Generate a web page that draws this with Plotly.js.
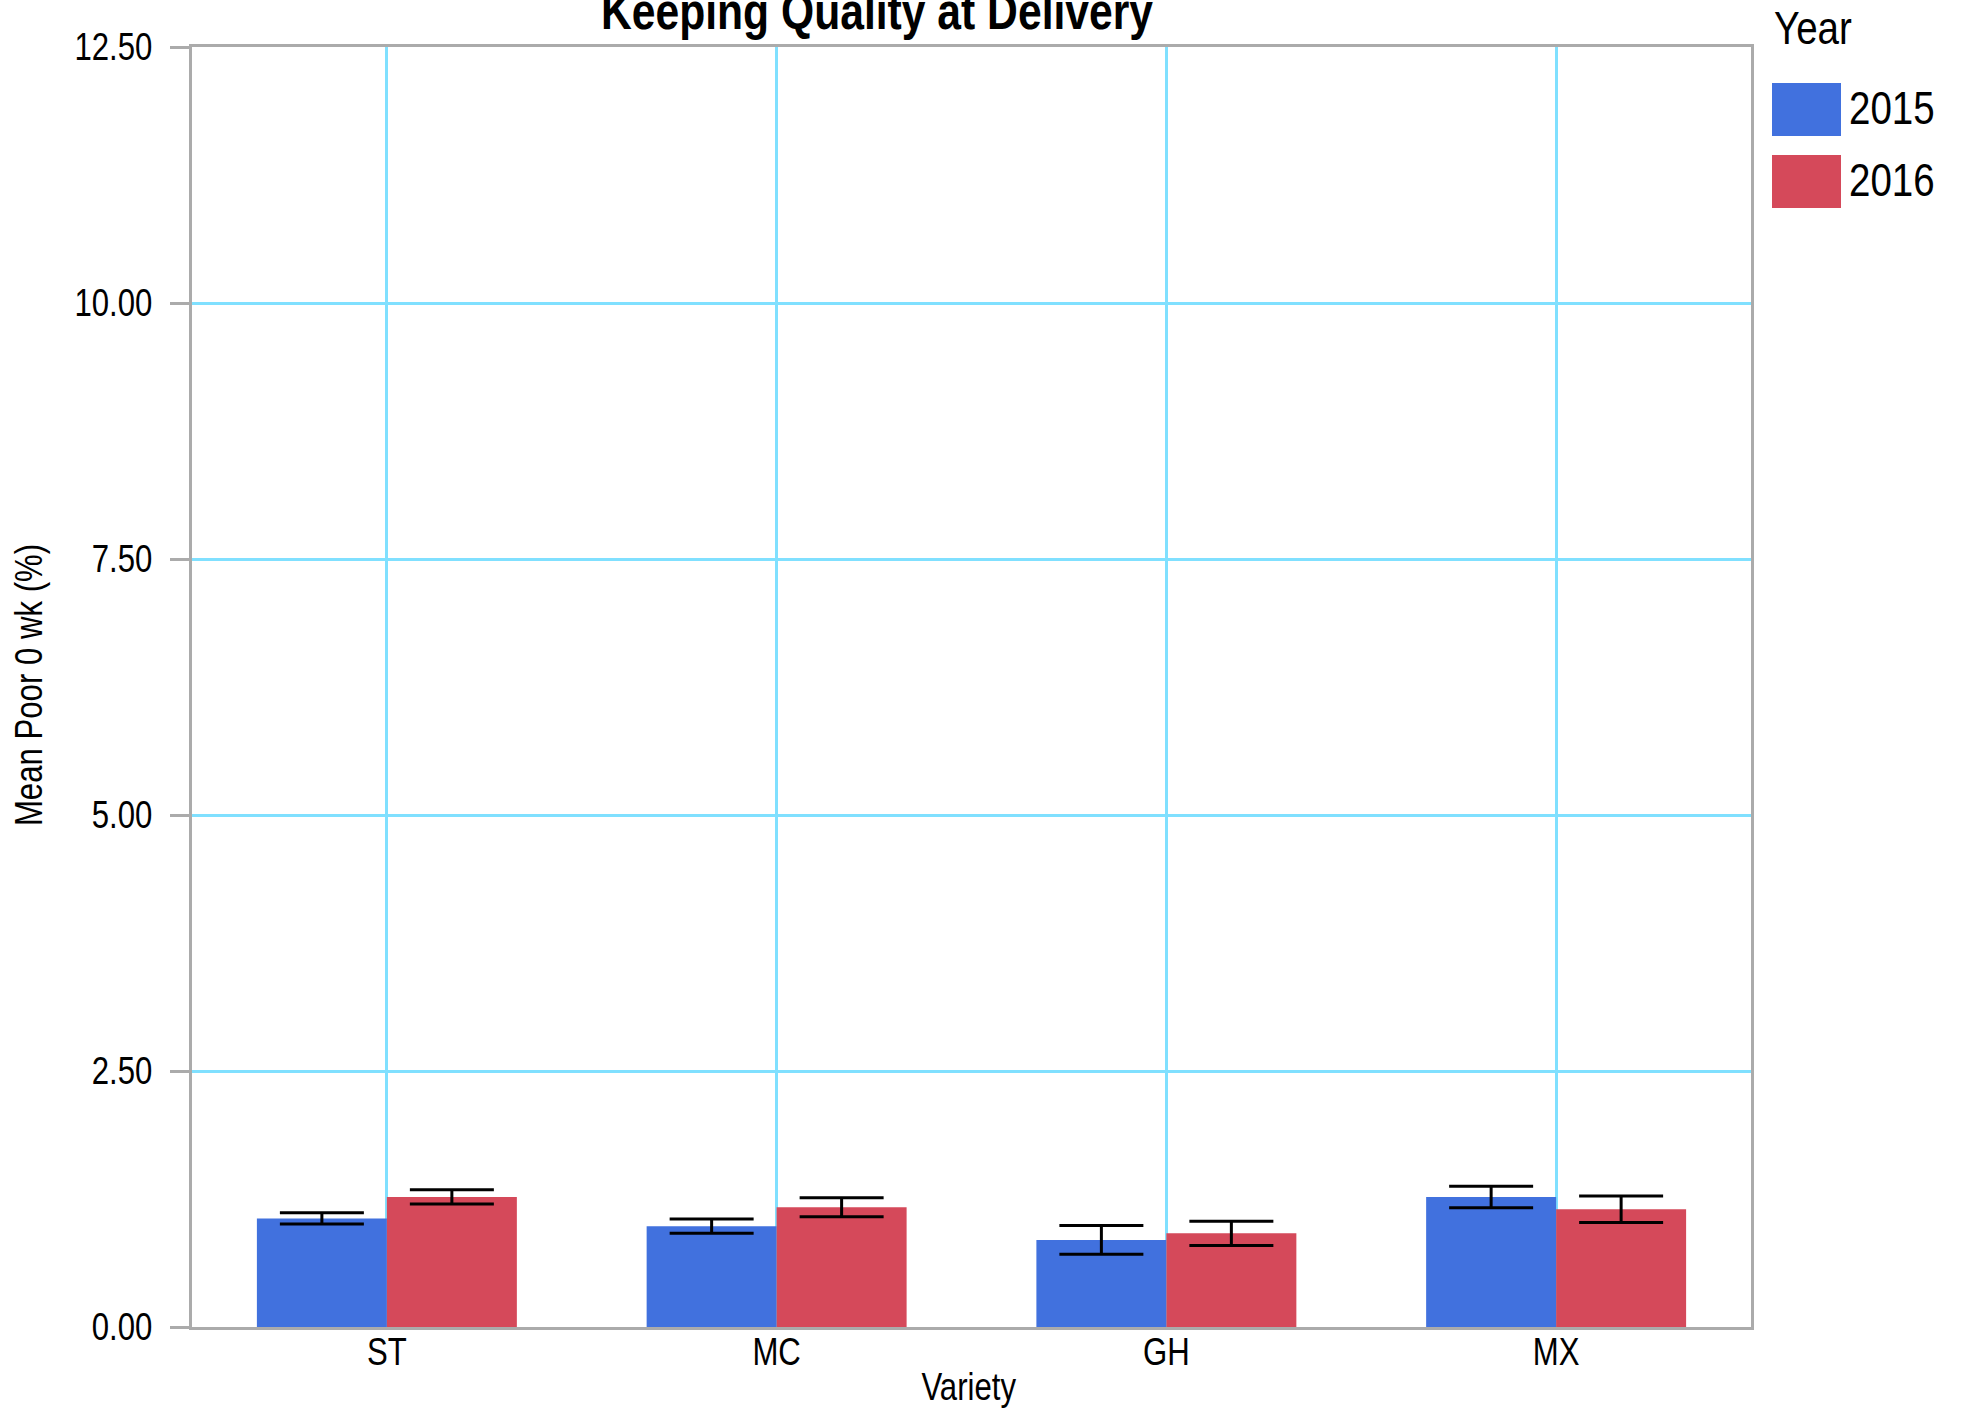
<!DOCTYPE html>
<html>
<head>
<meta charset="utf-8">
<script src="https://cdn.plot.ly/plotly-3.0.1.min.js"></script>
<style>html,body{margin:0;padding:0;background:#fff;}#chart{width:1961px;height:1410px;}</style>
</head>
<body>
<div id="chart"></div>
<script>
const varieties = ["ST", "MC", "GH", "MX"];
const years = ["2015", "2016"];
const mean2015 = [1.06, 0.985, 0.85, 1.27];
const err2015 = [0.055, 0.07, 0.14, 0.105];
const mean2016 = [1.27, 1.17, 0.915, 1.15];
const err2016 = [0.07, 0.093, 0.118, 0.13];
const yTicks = [0, 2.5, 5, 7.5, 10, 12.5];
const colors = ["#4171DE", "#D5495A"];

const FONT = "'Liberation Sans Narrow', 'Arial Narrow', 'Liberation Sans', Arial, sans-serif";
const NARROW = 0.82;

// plot area in pixels
const PL = 192, PR = 1751, PT = 47, PB = 1327;
const PW = PR - PL, PH = PB - PT;
const px = x => (x - PL) / PW;
const py = y => (PB - y) / PH;

function barTrace(name, y, e, color) {
  return {
    type: "bar", name: name, x: varieties, y: y,
    marker: {color: color, line: {width: 0}},
    error_y: {type: "data", array: e, visible: true, color: "#000", thickness: 3, width: 42},
    showlegend: false, hoverinfo: "none"
  };
}

const data = [
  barTrace(years[0], mean2015, err2015, colors[0]),
  barTrace(years[1], mean2016, err2016, colors[1])
];

// legend key: swatches + labels
const legendShapes = years.map((yr, i) => ({
  type: "rect", xref: "paper", yref: "paper",
  x0: px(1772), x1: px(1841),
  y0: py(136 + 72 * i), y1: py(83 + 72 * i),
  fillcolor: colors[i], line: {width: 0}
}));
const legendText = years.map((yr, i) => ({
  xref: "paper", yref: "paper",
  x: px(1847), xanchor: "left",
  y: py(107 + 72 * i), yanchor: "middle",
  text: yr, showarrow: false,
  font: {family: FONT, size: 47, color: "#000"}
}));
legendText.push({
  xref: "paper", yref: "paper",
  x: px(1772), xanchor: "left",
  y: py(27), yanchor: "middle",
  text: "Year", showarrow: false,
  font: {family: FONT, size: 47, color: "#000"}
});

const layout = {
  width: 1961, height: 1410,
  paper_bgcolor: "#fff", plot_bgcolor: "#fff",
  margin: {l: PL, r: 1961 - PR, t: PT, b: 1410 - PB, pad: 0},
  font: {family: FONT, size: 38, color: "#000"},
  title: {
    text: "<b>Keeping Quality at Delivery</b>",
    font: {family: FONT, size: 52, color: "#000"},
    xref: "container", x: 877 / 1961, xanchor: "center",
    yref: "container", y: 1 - 11 / 1410, yanchor: "middle"
  },
  barmode: "group", bargap: 0.333, bargroupgap: 0,
  showlegend: false,
  xaxis: {
    type: "category",
    showgrid: true, gridcolor: "#80E0FF", gridwidth: 3,
    showline: true, linecolor: "#ABABAB", linewidth: 3, mirror: true,
    ticks: "", tickfont: {family: FONT, size: 38, color: "#000"},
    title: {text: "Variety", font: {family: FONT, size: 38, color: "#000"}},
    zeroline: false
  },
  yaxis: {
    range: [0, 12.5], tickvals: yTicks, tickformat: ".2f",
    showgrid: true, gridcolor: "#80E0FF", gridwidth: 3,
    showline: true, linecolor: "#ABABAB", linewidth: 3, mirror: true,
    ticks: "outside", ticklen: 19, tickwidth: 3, tickcolor: "#ABABAB",
    tickfont: {family: FONT, size: 38, color: "#000"},
    ticklabelstandoff: 10,
    title: {text: "Mean Poor 0 wk (%)", font: {family: FONT, size: 38, color: "#000"}},
    zeroline: false
  },
  shapes: legendShapes,
  annotations: legendText
};

// Emulate a narrow (condensed) sans face: squeeze text horizontally about its anchor,
// and place titles / category labels where the reference has them.
function finish(gd) {
  const svgRect = gd.querySelector('svg.main-svg').getBoundingClientRect();
  gd.querySelectorAll('svg text').forEach(t => {
    if (!t.textContent) return;
    const b = t.getBBox();
    let anchor = t.getAttribute('text-anchor') || 'start';
    if (t.classList.contains('annotation-text')) anchor = 'start';
    const cx = anchor === 'end' ? b.x + b.width : anchor === 'middle' ? b.x + b.width / 2 : b.x;
    const tr = t.getAttribute('transform') || '';
    t.setAttribute('transform', tr + ' translate(' + cx + ',0) scale(' + NARROW + ',1) translate(' + (-cx) + ',0)');
  });
  function moveTo(el, tx, ty) {
    if (!el) return;
    const r = el.getBoundingClientRect();
    const cx = r.left + r.width / 2 - svgRect.left, cy = r.top + r.height / 2 - svgRect.top;
    const dx = tx == null ? 0 : tx - cx, dy = ty == null ? 0 : ty - cy;
    el.setAttribute('transform', 'translate(' + dx + ',' + dy + ') ' + (el.getAttribute('transform') || ''));
  }
  moveTo(gd.querySelector('.xtitle'), 969, 1387);
  moveTo(gd.querySelector('.ytitle'), 29, 685);
  gd.querySelectorAll('.xtick text').forEach(t => moveTo(t, null, 1352));
}

Plotly.newPlot("chart", data, layout, {displayModeBar: false, staticPlot: true}).then(finish);
</script>
</body>
</html>
